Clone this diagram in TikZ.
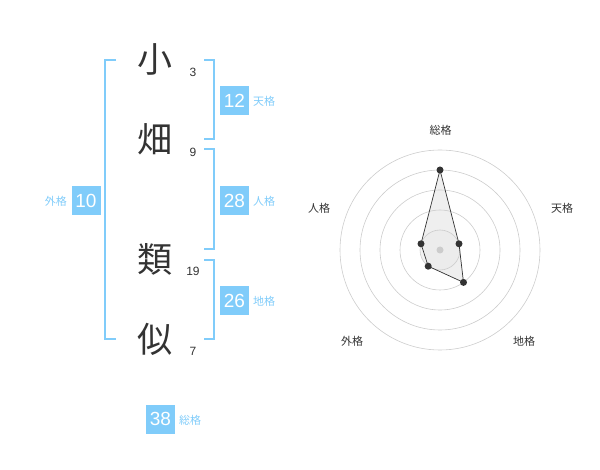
\documentclass[tikz,border=0pt]{standalone}
\usepackage{fontspec}
\usetikzlibrary{calc}
\setmainfont{Liberation Sans}
\newfontfamily\cjk{Noto Sans CJK JP}
\definecolor{kblue}{RGB}{128,204,250}
\definecolor{ktext}{RGB}{51,51,51}
\definecolor{kgrid}{RGB}{204,204,204}
\begin{document}
\begin{tikzpicture}[x=1pt,y=-1pt,
  kanji/.style={font=\cjk\fontsize{35}{35}\selectfont,text=ktext,inner sep=0},
  strokes/.style={font=\fontsize{12}{12}\selectfont,text=ktext,inner sep=0},
  valbox/.style={fill=kblue,text=white,font=\fontsize{19}{19}\selectfont,minimum width=29pt,minimum height=29pt,inner sep=0},
  vallab/.style={font=\cjk\fontsize{11}{11}\selectfont,text=kblue,inner sep=0},
  brk/.style={draw=kblue,line width=1.3pt},
  axlab/.style={font=\cjk\fontsize{11}{11}\selectfont,text=ktext,inner sep=0},
  ring/.style={draw=kgrid,line width=0.6pt},
  dot/.style={circle,fill=ktext,inner sep=0,minimum size=7pt}]
\useasboundingbox (0,0) rectangle (600,470);
% characters
\node[kanji] (c1) at (155,59) {小};
\node[kanji] (c2) at (155,139) {畑};
\node[kanji] (c3) at (155,259) {類};
\node[kanji] (c4) at (155,339) {似};
\node[strokes] (n1) at (193,72) {3};
\node[strokes] (n2) at (193,152) {9};
\node[strokes] (n3) at (193,271) {19};
\node[strokes] (n4) at (193,351) {7};
% left bracket
\coordinate (l1) at (116,60); \coordinate (l2) at (105,60);
\coordinate (l3) at (105,339); \coordinate (l4) at (116,339);
\draw[brk] (l1) -- (l2) -- (l3) -- (l4);
% right brackets
\coordinate (a1) at (204,60); \coordinate (a2) at (214,60);
\coordinate (a3) at (214,139); \coordinate (a4) at (204,139);
\draw[brk] (a1) -- (a2) -- (a3) -- (a4);
\coordinate (b1) at (204,149); \coordinate (b2) at (214,149);
\coordinate (b3) at (214,249); \coordinate (b4) at (204,249);
\draw[brk] (b1) -- (b2) -- (b3) -- (b4);
\coordinate (d1) at (204,260); \coordinate (d2) at (214,260);
\coordinate (d3) at (214,339); \coordinate (d4) at (204,339);
\draw[brk] (d1) -- (d2) -- (d3) -- (d4);
% value boxes
\node[valbox] (ten) at (234.5,100.5) {12};
\node[vallab,anchor=west] (tenl) at (253,101) {天格};
\node[valbox] (jin) at (234.5,200.5) {28};
\node[vallab,anchor=west] (jinl) at (253,201) {人格};
\node[valbox] (chi) at (234.5,300.5) {26};
\node[vallab,anchor=west] (chil) at (253,301) {地格};
\node[valbox] (gai) at (86,200.5) {10};
\node[vallab,anchor=east] (gail) at (67,201) {外格};
\node[valbox] (sou) at (160.5,419) {38};
\node[vallab,anchor=west] (soul) at (179,420) {総格};
% radar
\coordinate (C) at (440,250);
\fill[black!5] (C) circle (20);
\coordinate (p1) at (440,170);
\coordinate (p2) at ($(C)+(19,-6.2)$);
\coordinate (p3) at ($(C)+(23.5,32.4)$);
\coordinate (p4) at ($(C)+(-11.8,16.2)$);
\coordinate (p5) at ($(C)+(-19,-6.2)$);
\fill[black!8,opacity=0.8] (p1) -- (p2) -- (p3) -- (p4) -- (p5) -- cycle;
\foreach \r in {20,40,60,80,100} \draw[ring] (C) circle (\r);
\node[circle,fill=kgrid,inner sep=0,minimum size=7pt] (cc) at (C) {};
\draw[draw=ktext,line width=0.7pt] (p1) -- (p2) -- (p3) -- (p4) -- (p5) -- cycle;
\foreach \p in {p1,p2,p3,p4,p5} \node[dot] at (\p) {};
\node[axlab] (x1) at (440.5,130) {総格};
\node[axlab] (x2) at (562,208.5) {天格};
\node[axlab] (x3) at (524,341.5) {地格};
\node[axlab] (x4) at (352,341.5) {外格};
\node[axlab] (x5) at (319,208.5) {人格};
\end{tikzpicture}
\end{document}
